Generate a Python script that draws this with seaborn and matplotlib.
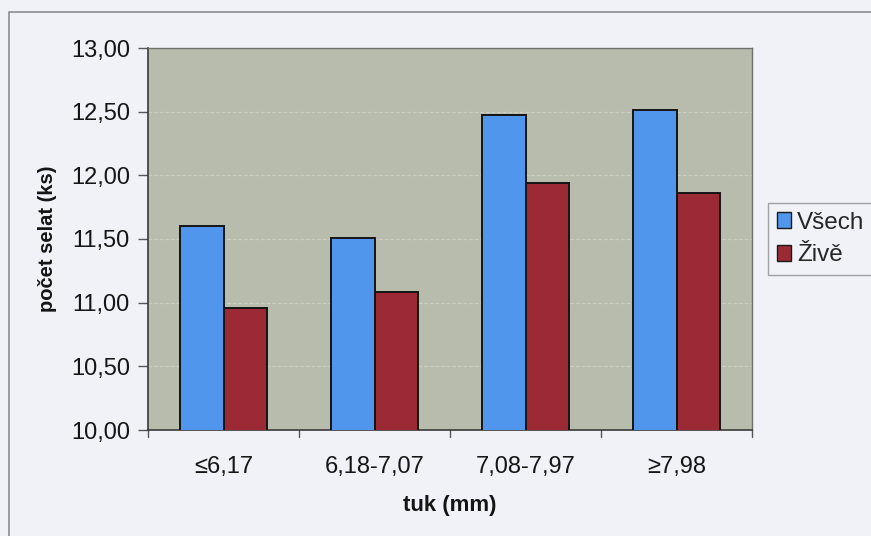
import matplotlib
matplotlib.use("Agg")
import matplotlib.pyplot as plt
import seaborn as sns
import pandas as pd
from matplotlib.patches import Rectangle, Patch

# Litter size by back-fat thickness class
categories = ["≤6,17", "6,18-7,07", "7,08-7,97", "≥7,98"]
vsech = [11.60, 11.51, 12.47, 12.51]
zive = [10.96, 11.08, 11.94, 11.86]
series = ["Všech", "Živě"]
yticks = [10.0, 10.5, 11.0, 11.5, 12.0, 12.5, 13.0]

df = pd.DataFrame({
    "tuk": categories * 2,
    "hodnota": vsech + zive,
    "serie": [series[0]] * len(categories) + [series[1]] * len(categories),
})

sns.set_theme(style="white")
plt.rcParams["font.family"] = ["Liberation Sans", "DejaVu Sans"]

W, H = 871, 536
fig = plt.figure(figsize=(W / 100, H / 100), dpi=100)
fig.patch.set_facecolor("#F1F2F8")

def fx(px):
    return px / W

def fy(py):
    return 1 - py / H

# chart-area frame
fig.add_artist(Rectangle((fx(9), fy(560)), fx(900) - fx(9), fy(12) - fy(560),
                         transform=fig.transFigure, fill=False,
                         edgecolor="#8A8C90", linewidth=1.2))

ax = fig.add_axes([fx(148), fy(430), fx(752) - fx(148), fy(48) - fy(430)])
ax.set_facecolor("#B7BCAD")

palette = {"Všech": "#4F96EC", "Živě": "#9C2A34"}
sns.barplot(data=df, x="tuk", y="hodnota", hue="serie", palette=palette,
            width=0.58, gap=0, edgecolor="#141414", linewidth=1.4,
            saturation=1, ax=ax, legend=False, zorder=3)

ax.set_ylim(10, 13)
ax.set_xlim(-0.5, len(categories) - 0.5)
ax.set_yticks(yticks)
ax.set_yticklabels([f"{v:.2f}".replace(".", ",") for v in yticks])
for v in yticks[1:-1]:
    ax.axhline(v, color="#CBCFC3", linewidth=0.9, linestyle=(0, (3, 1.5)), zorder=1)

# category ticks on group boundaries
ax.set_xticks(range(len(categories)))
ax.set_xticklabels(categories)
ax.tick_params(axis="x", length=0, pad=19, labelsize=17, colors="#151515")
for b in [x - 0.5 for x in range(len(categories) + 1)]:
    ax.plot([b, b], [0, -0.018], transform=ax.get_xaxis_transform(),
            color="#555555", lw=1, clip_on=False)
ax.tick_params(axis="y", direction="out", length=7, width=1, color="#555555",
               pad=6, labelsize=17, labelcolor="#151515", left=True)

for side in ["left", "bottom"]:
    ax.spines[side].set_color("#3A3A3A")
    ax.spines[side].set_linewidth(1.2)
for side in ["top", "right"]:
    ax.spines[side].set_color("#6E716A")
    ax.spines[side].set_linewidth(1.0)

ax.set_xlabel("tuk (mm)", fontsize=16, fontweight="bold", color="#151515", labelpad=12)
ax.set_ylabel("počet selat (ks)", fontsize=14.5, fontweight="bold", color="#151515", labelpad=10)

handles = [Patch(facecolor=palette[s], edgecolor="#1A1A1A", linewidth=1.0) for s in series]
leg = fig.legend(handles, series, loc="upper left",
                 bbox_to_anchor=(fx(768), fy(203)), frameon=True, fancybox=False,
                 fontsize=17.5, handlelength=0.6, handleheight=0.6, handletextpad=0.25,
                 borderpad=0.35, labelspacing=0.45, borderaxespad=0)
leg.get_frame().set_edgecolor("#8A8C90")
leg.get_frame().set_facecolor("#F1F2F8")
leg.get_frame().set_linewidth(1.0)

fig.savefig("out.png", dpi=100, facecolor=fig.get_facecolor())
